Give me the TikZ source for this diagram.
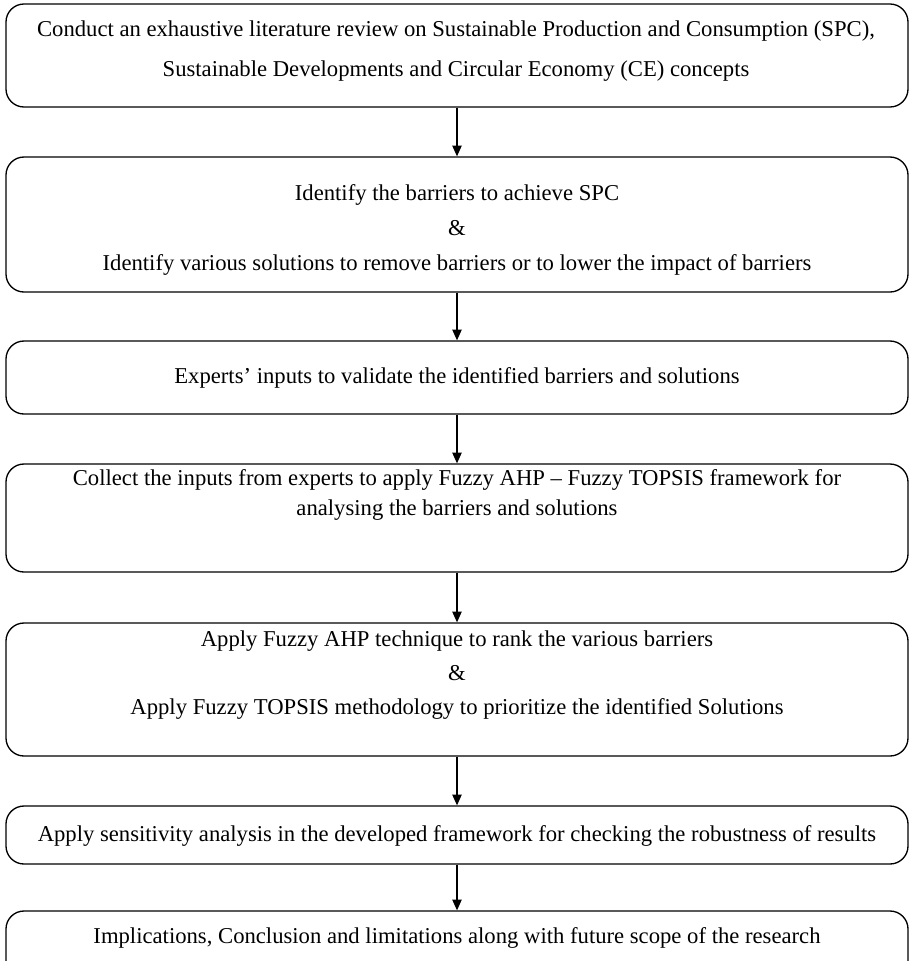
\documentclass[tikz,border=0pt]{standalone}
\usepackage{fontspec}
\setmainfont{Liberation Serif}
\usetikzlibrary{arrows.meta}

\tikzset{
  stage/.style={draw, line width=1pt, rounded corners=13.5pt, minimum width=676.5pt, inner sep=0pt},
  words/.style={align=center, inner sep=0pt, font=\fontsize{17}{22.5}\selectfont},
  flow/.style={-{Triangle[length=8pt,width=7pt]}, line width=0.8pt}
}

\begin{document}
\begin{tikzpicture}[x=0.75pt,y=-0.75pt]
\useasboundingbox (0,0) rectangle (909,961);
% Boxes
\node[stage, minimum height=77.25pt] (review) at (457,55.5) {};
\node[stage, minimum height=101.25pt] (identify) at (457,224.5) {};
\node[stage, minimum height=54.75pt] (validate) at (457,377.5) {};
\node[stage, minimum height=81pt] (collect) at (457,518) {};
\node[stage, minimum height=99.75pt] (apply) at (457,689.5) {};
\node[stage, minimum height=43.5pt] (sensitivity) at (457,835) {};
\node[stage, minimum height=52.5pt] (implications) at (457,946) {};
% Texts
\node[words] (reviewtext) at (456,51) {Conduct an exhaustive literature review on Sustainable Production and Consumption (SPC),\\[7.5pt]
Sustainable Developments and Circular Economy (CE) concepts};
\node[words] (identifytext) at (457,230) {Identify the barriers to achieve SPC\\[3.75pt]
\&\\[3.75pt]
Identify various solutions to remove barriers or to lower the impact of barriers};
\node[words] (validatetext) at (457,378) {Experts' inputs to validate the identified barriers and solutions};
\node[words] (collecttext) at (457,495) {Collect the inputs from experts to apply Fuzzy AHP -- Fuzzy TOPSIS framework for\\
analysing the barriers and solutions};
\node[words] (applytext) at (457,675) {Apply Fuzzy AHP technique to rank the various barriers\\[3pt]
\&\\[3pt]
Apply Fuzzy TOPSIS methodology to prioritize the identified Solutions};
\node[words] (sensitivitytext) at (457,836) {Apply sensitivity analysis in the developed framework for checking the robustness of results};
\node[words] (implicationstext) at (457,938) {Implications, Conclusion and limitations along with future scope of the research};
% Arrows
\draw[flow] (review) -- (identify);
\draw[flow] (identify) -- (validate);
\draw[flow] (validate) -- (collect);
\draw[flow] (collect) -- (apply);
\draw[flow] (apply) -- (sensitivity);
\draw[flow] (sensitivity) -- (implications);
\end{tikzpicture}
\end{document}
